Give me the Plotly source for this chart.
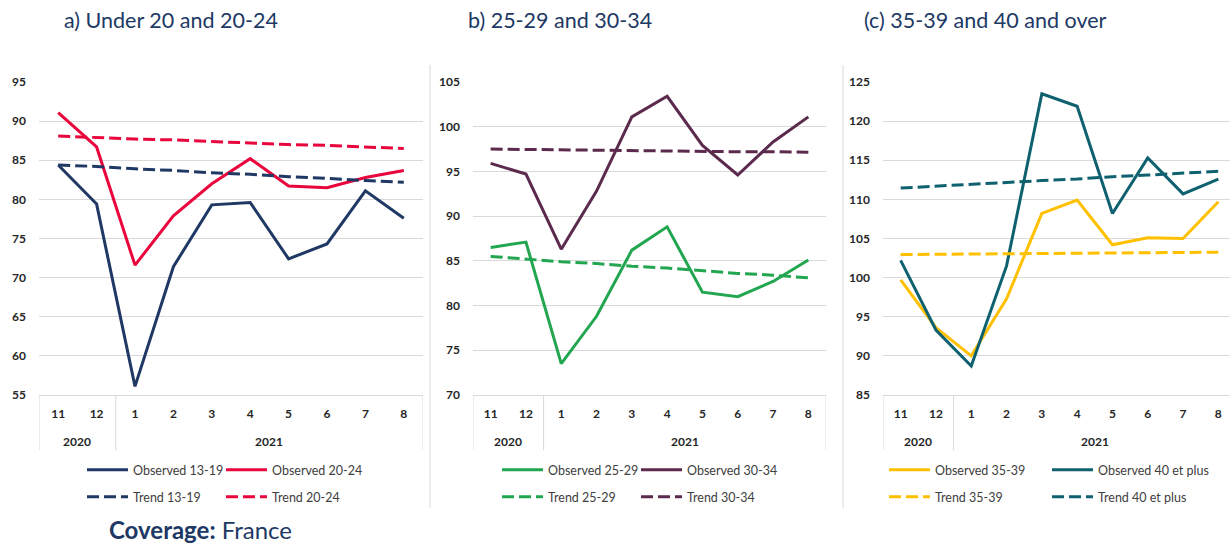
import plotly.graph_objects as go

years = ["2020", "2020", "2021", "2021", "2021", "2021", "2021", "2021", "2021", "2021"]
months = ["11", "12", "1", "2", "3", "4", "5", "6", "7", "8"]

# panel a
obs_13_19 = [84.4, 79.4, 56.1, 71.4, 79.3, 79.6, 72.4, 74.3, 81.1, 77.6]
obs_20_24 = [91.1, 86.7, 71.6, 77.9, 82.0, 85.2, 81.7, 81.5, 82.8, 83.7]
trend_13_19 = [84.4, 84.2, 83.9, 83.7, 83.4, 83.2, 82.9, 82.7, 82.4, 82.2]
trend_20_24 = [88.1, 87.9, 87.7, 87.6, 87.4, 87.2, 87.0, 86.9, 86.7, 86.5]

# panel b
obs_25_29 = [86.5, 87.1, 73.5, 78.8, 86.2, 88.8, 81.5, 81.0, 82.7, 85.1]
obs_30_34 = [95.9, 94.7, 86.3, 92.8, 101.1, 103.4, 97.9, 94.6, 98.3, 101.1]
trend_25_29 = [85.5, 85.2, 84.9, 84.7, 84.4, 84.2, 83.9, 83.6, 83.4, 83.1]
trend_30_34 = [97.5, 97.45, 97.4, 97.35, 97.3, 97.3, 97.25, 97.2, 97.2, 97.15]

# panel c
obs_35_39 = [99.7, 93.6, 90.0, 97.3, 108.2, 109.9, 104.2, 105.1, 105.0, 109.7]
obs_40p = [102.2, 93.3, 88.7, 101.5, 123.5, 121.9, 108.2, 115.3, 110.7, 112.6]
trend_35_39 = [102.95, 102.98, 103.0, 103.05, 103.08, 103.1, 103.15, 103.18, 103.2, 103.25]
trend_40p = [111.45, 111.7, 111.9, 112.15, 112.4, 112.6, 112.9, 113.1, 113.35, 113.6]

NAVY = "#203864"
RED = "#E8063C"
GREEN = "#22A650"
PURPLE = "#5B2A4C"
YELLOW = "#FFC000"
TEAL = "#0F6170"
GRID = "#D9D9D9"
FONT = "Lato"

W, H = 1230, 543


def px(v):
    return v / W


def py(v):
    return 1 - v / H


fig = go.Figure()

# per panel: axes, legend column positions (line start, px), series
panels = [
    ("x", "y", (87, 226),
     [("Observed 13-19", obs_13_19, NAVY), ("Observed 20-24", obs_20_24, RED)],
     [("Trend 13-19", trend_13_19, NAVY), ("Trend 20-24", trend_20_24, RED)]),
    ("x2", "y2", (502, 641),
     [("Observed 25-29", obs_25_29, GREEN), ("Observed 30-34", obs_30_34, PURPLE)],
     [("Trend 25-29", trend_25_29, GREEN), ("Trend 30-34", trend_30_34, PURPLE)]),
    ("x3", "y3", (889, 1052),
     [("Observed 35-39", obs_35_39, YELLOW), ("Observed 40 et plus", obs_40p, TEAL)],
     [("Trend 35-39", trend_35_39, YELLOW), ("Trend 40 et plus", trend_40p, TEAL)]),
]

legend_font = dict(family=FONT, size=12.5, color="#404040")
n_leg = 0


def add_legend(xpix, ypix):
    global n_leg
    n_leg += 1
    key = "legend" if n_leg == 1 else "legend" + str(n_leg)
    fig.layout[key] = dict(
        x=px(xpix - 5), xanchor="left", y=py(ypix), yanchor="middle",
        itemwidth=41, font=legend_font, bgcolor="rgba(0,0,0,0)",
        itemclick=False,
    )
    return key


for xa, ya, cols, obs, trend in panels:
    for k, (name, vals, col) in enumerate(obs):
        lg = add_legend(cols[k], 470)
        fig.add_trace(go.Scatter(x=months, y=vals, name=name, mode="lines",
                                 line=dict(color=col, width=3),
                                 xaxis=xa, yaxis=ya, legend=lg))
    for k, (name, vals, col) in enumerate(trend):
        lg = add_legend(cols[k], 497)
        fig.add_trace(go.Scatter(x=months, y=vals, name=name, mode="lines",
                                 line=dict(color=col, width=3, dash="12px,5px"),
                                 xaxis=xa, yaxis=ya, legend=lg))

ytop = py(82)
ybot = py(395)

doms = [(px(39), px(423)), (px(473), px(826)), (px(883), 1.0)]
yranges = [(55, 95), (70, 105), (85, 125)]
xranges = [(-0.5, 9.5), (-0.5, 9.5), (-0.5, 9.33)]

tick_font = dict(family=FONT, size=12, color="#262626", weight="bold")

# year groups: boundaries and centres in category index units
groups = []
start = 0
for k in range(1, len(years) + 1):
    if k == len(years) or years[k] != years[start]:
        groups.append((years[start], start, k - 1))
        start = k

for i, (dom, yr, xr) in enumerate(zip(doms, yranges, xranges)):
    sfx = "" if i == 0 else str(i + 1)
    xref = "x" + sfx
    fig.layout["xaxis" + sfx] = dict(
        domain=list(dom), anchor="y" + sfx, type="category",
        range=list(xr), showgrid=False, showline=True, linecolor=GRID,
        ticks="", tickfont=tick_font, ticklabelstandoff=8, automargin=False,
    )
    fig.layout["yaxis" + sfx] = dict(
        domain=[ybot, ytop], anchor="x" + sfx, range=list(yr), dtick=5,
        showgrid=True, gridcolor=GRID, gridwidth=1, zeroline=False,
        showline=False, ticks="", tickfont=tick_font, ticklabelstandoff=12,
        automargin=False,
    )
    # group dividers and year labels under the month labels
    edges = [-0.5] + [g[2] + 0.5 for g in groups]
    for e in edges:
        fig.add_shape(type="line", xref=xref, yref="paper", x0=e, x1=e,
                      y0=ybot, y1=py(450), line=dict(color=GRID, width=1))
    for yname, a, b in groups:
        fig.add_annotation(text="<b>" + yname + "</b>", x=(a + b) / 2, xref=xref,
                           y=py(441), yref="paper", yanchor="middle", showarrow=False,
                           font=dict(family=FONT, size=12, color="#262626"))

titles = [("a) Under 20 and 20-24", 62), ("b) 25-29 and 30-34", 466),
          ("(c) 35-39 and 40 and over", 862)]
for txt, xp in titles:
    fig.add_annotation(text=txt, x=px(xp), y=py(20), xref="paper", yref="paper",
                       xanchor="left", yanchor="middle", showarrow=False,
                       font=dict(family=FONT, size=21.5, color=NAVY))

fig.add_annotation(text="<b>Coverage:</b> France", x=px(107), y=py(529),
                   xref="paper", yref="paper", xanchor="left", yanchor="middle",
                   showarrow=False, font=dict(family=FONT, size=24, color=NAVY))

for xp in (430, 843):
    fig.add_shape(type="line", xref="paper", yref="paper",
                  x0=px(xp), x1=px(xp), y0=py(65), y1=py(508),
                  line=dict(color=GRID, width=1))

fig.update_layout(
    width=W, height=H,
    margin=dict(l=0, r=0, t=0, b=0, autoexpand=False),
    paper_bgcolor="white", plot_bgcolor="white",
    font=dict(family=FONT), showlegend=True,
)

fig.write_html("out.html", config={"displayModeBar": False},
               post_script="document.body.style.margin='0';")
